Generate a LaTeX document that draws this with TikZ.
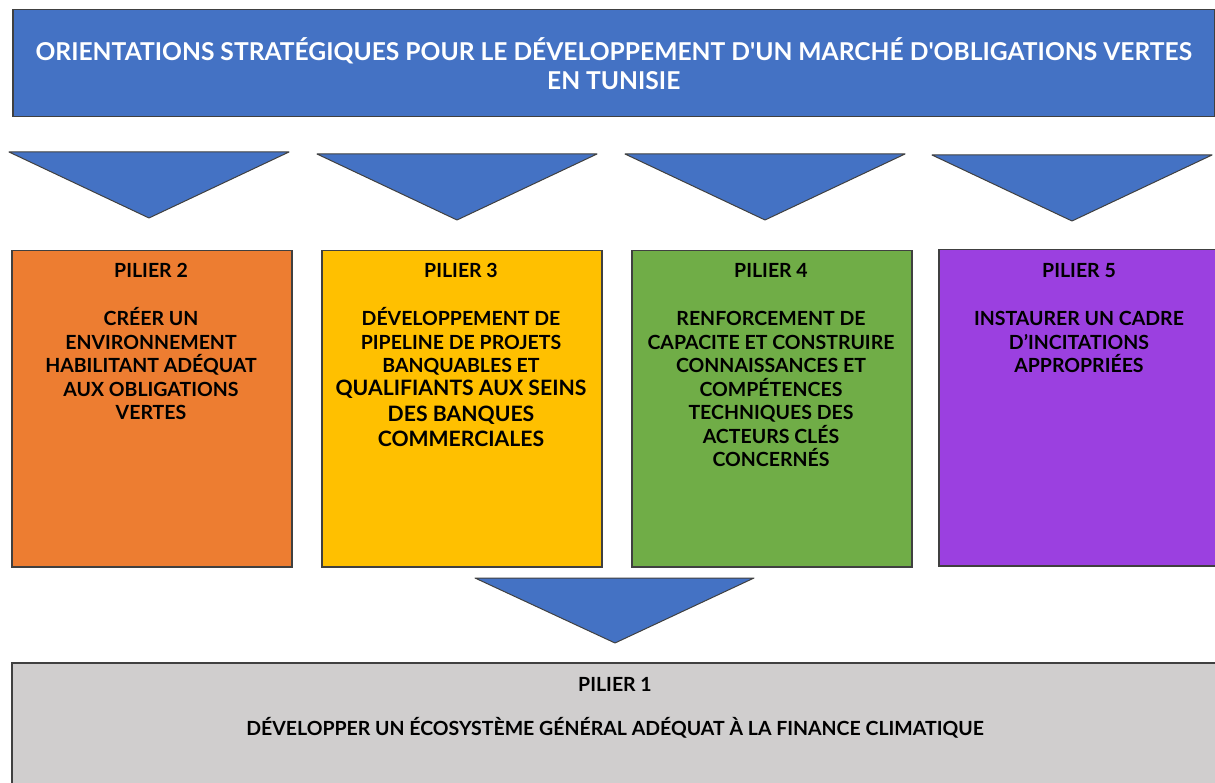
\documentclass[tikz,border=0pt]{standalone}
\usepackage{fontspec}
\setmainfont{Lato}[Ligatures=TeXOff]
\definecolor{titleblue}{HTML}{4472C4}
\definecolor{orangefill}{HTML}{ED7D31}
\definecolor{yellowfill}{HTML}{FFC000}
\definecolor{greenfill}{HTML}{70AD47}
\definecolor{purplefill}{HTML}{9B40E0}
\definecolor{grayfill}{HTML}{D0CECE}
\definecolor{edgegray}{HTML}{404040}
\begin{document}
\begin{tikzpicture}[
            x=1pt, y=-1pt,
            box/.style={
                rectangle,
                draw=edgegray,
                line width=1.5pt,
                inner sep=0pt,
                anchor=north west
            },
            pilier/.style={
                box,
                minimum width=280pt,
                minimum height=316pt
            },
            tri/.style={
                draw=edgegray,
                fill=titleblue,
                line width=1pt,
                line join=round
            },
            ptext/.style={
                anchor=north,
                inner sep=0pt,
                align=center,
                font=\bfseries\fontsize{19.5}{23.5}\selectfont
            }
        ]

        \useasboundingbox (0,0) rectangle (1215,783);
        \clip (0,0) rectangle (1215,783);

        % nodes
        \node[box, fill=titleblue, minimum width=1202pt, minimum height=107pt,
              text=white, align=center, font=\bfseries\fontsize{24.6}{29}\selectfont] (titre) at (12,9)
              {ORIENTATIONS STRATÉGIQUES POUR LE DÉVELOPPEMENT D'UN MARCHÉ D'OBLIGATIONS VERTES\\EN TUNISIE};

        \node[pilier, fill=orangefill] (p2) at (11,250) {};
        \node[pilier, fill=yellowfill] (p3) at (321,250) {};
        \node[pilier, fill=greenfill] (p4) at (631,250) {};
        \node[pilier, fill=purplefill, minimum width=290pt] (p5) at (938,249) {};
        \node[box, fill=grayfill, minimum width=1220pt, minimum height=140pt] (p1) at (11,662) {};

        \node[ptext] (t2) at (151,263) {PILIER 2\\[25pt]CRÉER UN\\ENVIRONNEMENT\\HABILITANT ADÉQUAT\\AUX OBLIGATIONS\\VERTES};
        \node[ptext] (t3) at (461,263) {PILIER 3\\[25pt]DÉVELOPPEMENT DE\\PIPELINE DE PROJETS\\BANQUABLES ET};
        \node[ptext, font=\bfseries\fontsize{21.2}{25.5}\selectfont] (t3b) at (461,380)
              {QUALIFIANTS AUX SEINS\\DES BANQUES\\COMMERCIALES};
        \node[ptext] (t4) at (771,263) {PILIER 4\\[25pt]RENFORCEMENT DE\\CAPACITE ET CONSTRUIRE\\CONNAISSANCES ET\\COMPÉTENCES\\TECHNIQUES DES\\ACTEURS CLÉS\\CONCERNÉS};
        \node[ptext] (t5) at (1079,263) {PILIER 5\\[25pt]INSTAURER UN CADRE\\D’INCITATIONS\\APPROPRIÉES};
        \node[ptext] (t1) at (615,677) {PILIER 1\\[21pt]DÉVELOPPER UN ÉCOSYSTÈME GÉNÉRAL ADÉQUAT À LA FINANCE CLIMATIQUE};

        % arrows
        \draw[tri] (9,152) -- (289,152) -- (149,218) -- cycle;
        \draw[tri] (317,154) -- (597,154) -- (457,220) -- cycle;
        \draw[tri] (625,154) -- (905,154) -- (765,220) -- cycle;
        \draw[tri] (932,155) -- (1212,155) -- (1072,221) -- cycle;
        \draw[tri] (475,578) -- (754,578) -- (615,643) -- cycle;
    \end{tikzpicture}
\end{document}
